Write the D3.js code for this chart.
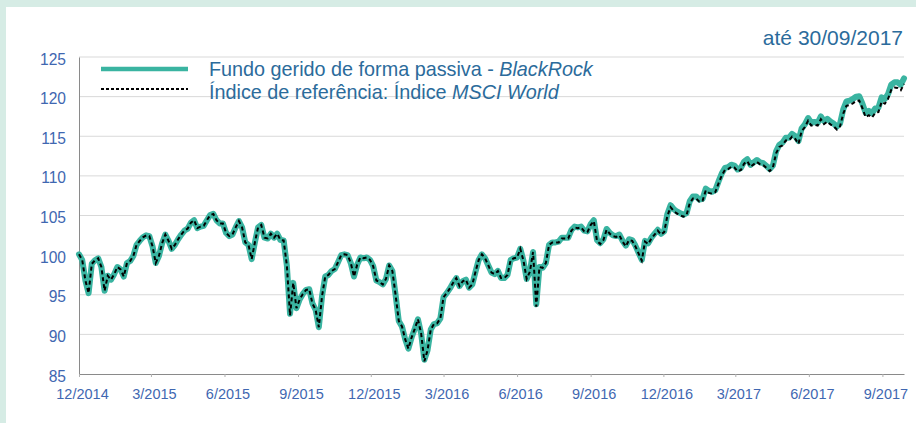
<!DOCTYPE html>
<html>
<head>
<meta charset="utf-8">
<script src="https://cdn.jsdelivr.net/npm/d3@7"></script>
<style>
  body { margin: 0; background: #fff; }
  svg { display: block; font-family: "Liberation Sans", Arial, sans-serif; }
</style>
</head>
<body>
<svg id="chart" width="916" height="423"></svg>
<script>
// values read every 4 days from 1/12/2014
const startDate = '2014-12-01';
const stepDays = 4;

const fundValues = [
  100.1, 99.4, 96.8, 95.2, 98.9, 99.35, 99.6, 98.5, 95.5, 97.4,
  96.9, 97.6, 98.5, 98.2, 97.3, 99.0, 99.25, 99.9, 101.3, 101.8,
  102.25, 102.5, 102.4, 101.1, 99.0, 99.9, 101.5, 102.6, 101.8, 100.8,
  101.3, 102.0, 102.6, 103.1, 103.35, 104.1, 104.4, 103.4, 103.6, 103.7,
  104.4, 105.05, 105.2, 104.4, 104.0, 104.0, 102.8, 102.4, 102.6, 103.5,
  104.3, 103.5, 101.6, 101.3, 99.5, 101.6, 103.5, 103.8, 102.2, 102.1,
  102.7, 102.2, 102.7, 101.9, 101.85, 98.7,
  92.6, 96.5, 93.3, 94.4, 95.1, 95.6, 95.7, 93.9, 93.1, 90.9,
  94.8, 97.3, 97.5, 98.0, 98.25, 99.1, 100.0, 100.1, 100.0, 99.0,
  97.3, 98.8, 99.7, 99.6, 99.7, 99.4, 98.6, 96.8, 96.6, 96.3,
  97.0, 98.7, 98.0, 95.0, 91.7, 91.0, 89.4, 88.2, 89.6, 90.7,
  91.9, 90.1, 86.8, 88.0, 90.6, 91.3, 91.4, 92.0, 94.7, 95.2, 95.8,
  96.5, 97.1, 96.1, 96.7, 96.9, 95.9, 96.3, 97.9, 99.4, 100.1,
  99.6, 98.7, 97.8, 97.6, 98.0, 97.1, 97.1, 97.5, 99.4, 99.6,
  99.7, 100.8, 99.3, 97.0, 97.9, 100.4, 93.8, 98.5, 98.4, 99.0,
  101.3, 101.6, 101.6, 101.7, 102.2, 102.2, 102.2, 103.2, 103.6, 103.5,
  103.6, 103.1, 103.0, 103.9, 104.4, 101.9, 101.5, 102.0, 103.3, 102.8,
  102.5, 102.4, 102.6, 101.8, 101.2, 102.0, 101.9, 101.2, 100.3, 99.4,
  101.8, 101.5, 102.2, 102.7, 103.2, 102.7, 103.0, 105.2, 106.3, 105.8,
  105.5, 105.3, 105.1, 105.3, 106.8,
  107.4, 107.4, 107.0, 107.1, 108.4, 108.1, 108.0, 108.2, 109.3, 110.3,
  111.0, 111.1, 111.4, 111.3, 110.8, 111.0, 111.8, 112.1, 111.4, 111.7,
  112.0, 111.7, 111.6, 111.25, 110.85, 111.3, 113.1, 113.9, 114.2, 114.8,
  114.8, 115.3, 115.0, 114.4, 116.0, 116.5, 117.3, 116.7, 116.8, 116.7,
  117.5, 116.9, 117.2, 116.85, 116.6, 116.2, 116.6, 118.4, 119.4, 119.5,
  119.7, 120.0, 120.05, 119.1, 117.95, 118.2, 117.9, 118.5, 118.6, 119.9,
  119.7, 120.3, 121.5, 121.8, 121.8, 121.5, 122.3
];

const indexValues = [
  100.1, 99.4, 96.8, 95.2, 98.9, 99.35, 99.6, 98.5, 95.5, 97.4,
  96.9, 97.6, 98.5, 98.2, 97.3, 99.0, 99.25, 99.9, 101.3, 101.8,
  102.25, 102.5, 102.4, 101.1, 99.0, 99.9, 101.5, 102.6, 101.8, 100.8,
  101.3, 102.0, 102.6, 103.1, 103.35, 104.1, 104.4, 103.4, 103.6, 103.7,
  104.4, 105.05, 105.2, 104.4, 104.0, 104.0, 102.8, 102.4, 102.6, 103.5,
  104.3, 103.5, 101.6, 101.3, 99.5, 101.6, 103.5, 103.8, 102.2, 102.1,
  102.7, 102.2, 102.7, 101.9, 101.85, 98.7,
  92.4, 96.5, 93.3, 94.4, 95.1, 95.6, 95.7, 93.9, 93.1, 90.9,
  94.8, 97.3, 97.5, 98.0, 98.25, 99.1, 100.0, 100.1, 100.0, 99.0,
  97.3, 98.8, 99.7, 99.6, 99.7, 99.4, 98.6, 96.8, 96.6, 96.3,
  97.0, 98.7, 98.0, 95.0, 91.7, 91.0, 89.4, 88.2, 89.6, 90.7,
  91.9, 90.1, 86.6, 88.0, 90.6, 91.3, 91.4, 92.0, 94.7, 95.2, 95.8,
  96.5, 97.1, 96.1, 96.7, 96.9, 95.9, 96.3, 97.9, 99.4, 100.1,
  99.6, 98.7, 97.8, 97.6, 98.0, 97.1, 97.1, 97.5, 99.4, 99.6,
  99.7, 100.8, 99.3, 97.0, 97.9, 100.4, 93.5, 98.5, 98.4, 99.0,
  101.3, 101.6, 101.6, 101.6, 102.1, 102.1, 102.1, 103.1, 103.5, 103.4,
  103.5, 103.0, 102.9, 103.8, 104.3, 101.8, 101.4, 101.9, 103.2, 102.7,
  102.4, 102.3, 102.5, 101.7, 101.1, 101.9, 101.8, 101.1, 100.2, 99.3,
  101.7, 101.4, 102.1, 102.6, 103.1, 102.6, 102.9, 104.95, 106.05, 105.55,
  105.25, 105.05, 104.85, 105.05, 106.55,
  107.15, 107.15, 106.75, 106.85, 108.15, 107.85, 107.75, 107.95, 109.05, 110.05,
  110.75, 110.85, 111.15, 111.05, 110.55, 110.75, 111.55, 111.85, 111.15, 111.45,
  111.75, 111.45, 111.35, 111.0, 110.6, 111.05, 112.85, 113.65, 113.85, 114.45,
  114.45, 114.95, 114.65, 114.05, 115.65, 116.15, 116.95, 116.35, 116.45, 116.35,
  117.15, 116.55, 116.85, 116.5, 116.25, 115.85, 116.25, 117.85, 118.85, 118.95,
  119.15, 119.45, 119.5, 118.55, 117.4, 117.65, 117.35, 117.95, 118.05, 119.35,
  119.1, 119.7, 120.85, 121.15, 121.1, 120.8, 121.6
];

const yTicks = [85, 90, 95, 100, 105, 110, 115, 120, 125];
const xTickLabels = ['12/2014', '3/2015', '6/2015', '9/2015', '12/2015', '3/2016',
  '6/2016', '9/2016', '12/2016', '3/2017', '6/2017', '9/2017'];

const titleText = 'até 30/09/2017';
const fundLabel = ['Fundo gerido de forma passiva - ', 'BlackRock'];
const indexLabel = ['Índice de referência: Índice ', 'MSCI World'];

const teal = '#3ab4a1';
const textBlue = '#2b6b9b';
const axisBlue = '#3f67b1';

const svg = d3.select('#chart');

// light green frame
svg.append('rect').attr('width', 916).attr('height', 423).attr('fill', '#d6ece5');
svg.append('rect').attr('x', 6).attr('y', 7).attr('width', 910).attr('height', 416).attr('fill', '#fff');

const parseDay = d3.timeParse('%Y-%m-%d');
const parseTick = d3.timeParse('%m/%Y');
const start = parseDay(startDate);
const dates = fundValues.map((v, i) => d3.timeDay.offset(start, i * stepDays));

const x = d3.scaleTime()
  .domain([start, dates[dates.length - 1]])
  .range([79, 904]);

const y = d3.scaleLinear()
  .domain([85, 125])
  .range([374, 57]);

// grid
svg.append('g')
  .selectAll('line')
  .data(yTicks.filter(t => t > 85))
  .enter()
  .append('line')
  .attr('x1', 79)
  .attr('x2', 904)
  .attr('y1', t => y(t))
  .attr('y2', t => y(t))
  .attr('stroke', '#d9d9d9')
  .attr('stroke-width', 1);

// y axis
const yAxis = svg.append('g')
  .attr('transform', 'translate(79,0)')
  .call(d3.axisLeft(y).tickValues(yTicks).tickSize(0).tickPadding(13));
yAxis.select('.domain').attr('stroke', '#8a8a8a');
yAxis.selectAll('text')
  .attr('fill', axisBlue)
  .attr('font-size', 15.6)
  .attr('font-family', '"Liberation Sans", Arial, sans-serif')
  .attr('dy', '0.45em');

// x axis
const xAxis = svg.append('g')
  .attr('transform', 'translate(0,374)')
  .call(d3.axisBottom(x)
    .tickValues(xTickLabels.map(parseTick))
    .tickFormat((d, i) => xTickLabels[i])
    .tickSize(3)
    .tickSizeOuter(0)
    .tickPadding(12));
xAxis.select('.domain').attr('stroke', '#8a8a8a');
xAxis.selectAll('.tick line').attr('stroke', '#b0b0b0');
xAxis.selectAll('text')
  .attr('fill', axisBlue)
  .attr('font-size', 14.5)
  .attr('font-family', '"Liberation Sans", Arial, sans-serif')
  .attr('dx', 3);

const line = d3.line()
  .x((d, i) => x(dates[i]))
  .y(d => y(d))
  .curve(d3.curveLinear);

svg.append('path')
  .datum(fundValues)
  .attr('d', line)
  .attr('fill', 'none')
  .attr('stroke', teal)
  .attr('stroke-width', 6)
  .attr('stroke-linejoin', 'round')
  .attr('stroke-linecap', 'round');

svg.append('path')
  .datum(indexValues)
  .attr('d', line)
  .attr('fill', 'none')
  .attr('stroke', '#000')
  .attr('stroke-width', 2)
  .attr('stroke-dasharray', '4,3');

// title
svg.append('text')
  .attr('x', 903)
  .attr('y', 45)
  .attr('text-anchor', 'end')
  .attr('font-size', 21)
  .attr('fill', textBlue)
  .text(titleText);

// legend
const legend = svg.append('g');
legend.append('line')
  .attr('x1', 101).attr('x2', 188)
  .attr('y1', 69).attr('y2', 69)
  .attr('stroke', teal)
  .attr('stroke-width', 4.5);
legend.append('line')
  .attr('x1', 101).attr('x2', 188)
  .attr('y1', 89).attr('y2', 89)
  .attr('stroke', '#000')
  .attr('stroke-width', 1.8)
  .attr('stroke-dasharray', '3,2');

[fundLabel, indexLabel].forEach((parts, k) => {
  const t = legend.append('text')
    .attr('x', 209)
    .attr('y', 75.5 + k * 23)
    .attr('font-size', 19.8)
    .attr('fill', textBlue);
  t.append('tspan').text(parts[0]);
  t.append('tspan').attr('font-style', 'italic').text(parts[1]);
});
</script>
</body>
</html>
